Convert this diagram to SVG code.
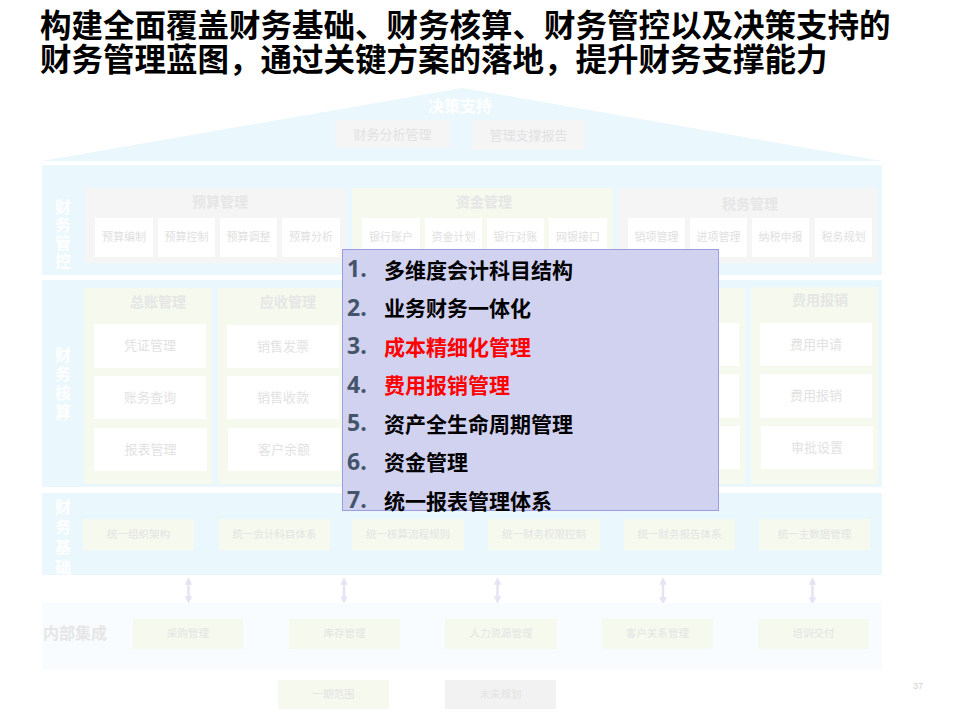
<svg xmlns="http://www.w3.org/2000/svg" width="960" height="720" viewBox="0 0 960 720">
<defs>
<style>
.cjk{font-family:"Noto Sans CJK SC","Noto Sans",sans-serif}
.title{font-size:31.5px;font-weight:700;fill:#000}
.panel{fill:#EAF7FD}
.gg{fill:#F5F5F5}
.gn{fill:#F5F9EE}
.wh{fill:#FFFFFF}
.vl{font-size:16px;font-weight:700;fill:#FFFFFF;text-anchor:middle}
.gt{font-size:14px;font-weight:700;fill:#E6E6E6;text-anchor:middle}
.it{font-size:11px;fill:#E0E0E0;text-anchor:middle}
.it2{font-size:13px;fill:#E2E2E2;text-anchor:middle}
.it3{font-size:10.5px;fill:#E4E4E4;text-anchor:middle}
.num{font-family:"Open Sans","Noto Sans",sans-serif;font-size:23px;font-weight:700;fill:#44546A}
.ov{font-size:21px;font-weight:700;fill:#000}
.red{fill:#FF0000}
.arr{stroke:#E4E4F4;stroke-width:2.5;fill:none;marker-start:url(#ah);marker-end:url(#ah)}
</style>
<marker id="ah" viewBox="0 0 10 10" refX="5" refY="5" markerWidth="3" markerHeight="3" orient="auto-start-reverse">
<path d="M0,0 L10,5 L0,10 Z" fill="#E4E4F4"/>
</marker>
</defs>
<rect width="960" height="720" fill="#FFFFFF"/>

<g id="title" class="cjk title">
<text x="40" y="37">构建全面覆盖财务基础、财务核算、财务管控以及决策支持的</text>
<text x="40" y="71">财务管理蓝图，通过关键方案的落地，提升财务支撑能力</text>
</g>

<g id="decision" class="cjk">
<polygon class="panel" points="42,161 462,88 882,161"/>
<text x="460" y="112" style="font-size:16px;font-weight:700;fill:#fff;text-anchor:middle">决策支持</text>
<rect class="gg" x="335" y="120" width="115" height="28"/>
<text class="it2" x="392.5" y="139">财务分析管理</text>
<rect class="gg" x="472" y="120" width="113" height="30"/>
<text class="it2" x="528.5" y="140">管理支撑报告</text>
</g>

<g id="control" class="cjk">
<rect class="panel" x="42" y="165" width="840" height="110"/>
<text class="vl" x="63" y="213">财</text>
<text class="vl" x="63" y="231">务</text>
<text class="vl" x="63" y="249">管</text>
<text class="vl" x="63" y="267">控</text>
<rect class="gg" x="85" y="188" width="261" height="75"/>
<text class="gt" x="220" y="207">预算管理</text>
<rect class="wh" x="95" y="218" width="58" height="39"/><text class="it" x="124" y="241">预算编制</text>
<rect class="wh" x="158" y="218" width="57" height="39"/><text class="it" x="186.5" y="241">预算控制</text>
<rect class="wh" x="220" y="218" width="57" height="39"/><text class="it" x="248.5" y="241">预算调整</text>
<rect class="wh" x="282" y="218" width="58" height="39"/><text class="it" x="311" y="241">预算分析</text>
<rect class="gn" x="352" y="188" width="261" height="75"/>
<text class="gt" x="484" y="207">资金管理</text>
<rect class="wh" x="362" y="218" width="58" height="39"/><text class="it" x="391" y="241">银行账户</text>
<rect class="wh" x="425" y="218" width="57" height="39"/><text class="it" x="453.5" y="241">资金计划</text>
<rect class="wh" x="487" y="218" width="57" height="39"/><text class="it" x="515.5" y="241">银行对账</text>
<rect class="wh" x="549" y="218" width="58" height="39"/><text class="it" x="578" y="241">网银接口</text>
<rect class="gg" x="618" y="188" width="259" height="75"/>
<text class="gt" x="750" y="209">税务管理</text>
<rect class="wh" x="628" y="218" width="57" height="39"/><text class="it" x="656.5" y="241">销项管理</text>
<rect class="wh" x="690" y="218" width="57" height="39"/><text class="it" x="718.5" y="241">进项管理</text>
<rect class="wh" x="752" y="218" width="57" height="39"/><text class="it" x="780.5" y="241">纳税申报</text>
<rect class="wh" x="815" y="218" width="57" height="39"/><text class="it" x="843.5" y="241">税务规划</text>
</g>

<g id="accounting" class="cjk">
<rect class="panel" x="42" y="280" width="840" height="207"/>
<text class="vl" x="63" y="361">财</text>
<text class="vl" x="63" y="380">务</text>
<text class="vl" x="63" y="399">核</text>
<text class="vl" x="63" y="418">算</text>
<rect class="gn" x="84" y="288" width="128" height="196"/>
<text class="gt" x="158" y="307">总账管理</text>
<rect class="wh" x="94" y="324" width="112" height="44"/><text class="it2" x="150" y="350">凭证管理</text>
<rect class="wh" x="94" y="376" width="112" height="43"/><text class="it2" x="150" y="402">账务查询</text>
<rect class="wh" x="94" y="428" width="113" height="43"/><text class="it2" x="150.5" y="454">报表管理</text>
<rect class="gn" x="218" y="288" width="128" height="196"/>
<text class="gt" x="288" y="307">应收管理</text>
<rect class="wh" x="227" y="325" width="112" height="43"/><text class="it2" x="283" y="351">销售发票</text>
<rect class="wh" x="227" y="376" width="112" height="43"/><text class="it2" x="283" y="402">销售收款</text>
<rect class="wh" x="228" y="428" width="112" height="43"/><text class="it2" x="284" y="454">客户余额</text>
<rect class="gn" x="351" y="288" width="128" height="196"/>
<rect class="wh" x="361" y="324" width="112" height="44"/>
<rect class="wh" x="361" y="376" width="112" height="43"/>
<rect class="wh" x="361" y="428" width="112" height="43"/>
<rect class="gn" x="485" y="288" width="128" height="196"/>
<rect class="wh" x="494" y="324" width="112" height="44"/>
<rect class="wh" x="494" y="376" width="112" height="43"/>
<rect class="wh" x="494" y="428" width="112" height="43"/>
<rect class="gn" x="618" y="288" width="127" height="196"/>
<rect class="wh" x="627" y="323" width="112" height="43"/>
<rect class="wh" x="627" y="374" width="112" height="44"/>
<rect class="wh" x="628" y="426" width="112" height="43"/>
<rect class="gn" x="751" y="287" width="127" height="197"/>
<text class="gt" x="820" y="305">费用报销</text>
<rect class="wh" x="760" y="323" width="112" height="43"/><text class="it2" x="816" y="349">费用申请</text>
<rect class="wh" x="760" y="374" width="112" height="44"/><text class="it2" x="816" y="400">费用报销</text>
<rect class="wh" x="761" y="426" width="112" height="43"/><text class="it2" x="817" y="452">审批设置</text>
</g>

<g id="foundation" class="cjk">
<rect class="panel" x="42" y="493" width="840" height="82"/>
<text class="vl" x="63" y="513">财</text>
<text class="vl" x="63" y="533">务</text>
<text class="vl" x="63" y="553">基</text>
<text class="vl" x="63" y="573">础</text>
<rect class="gn" x="83" y="519" width="111" height="31"/><text class="it3" x="138.5" y="538">统一组织架构</text>
<rect class="gn" x="219" y="519" width="111" height="31"/><text class="it3" x="274.5" y="538">统一会计科目体系</text>
<rect class="gn" x="352" y="519" width="112" height="31"/><text class="it3" x="408" y="538">统一核算流程规则</text>
<rect class="gn" x="488" y="519" width="112" height="31"/><text class="it3" x="544" y="538">统一财务权限控制</text>
<rect class="gn" x="624" y="519" width="111" height="31"/><text class="it3" x="679.5" y="538">统一财务报告体系</text>
<rect class="gn" x="759" y="519" width="111" height="31"/><text class="it3" x="814.5" y="538">统一主数据管理</text>
</g>

<g id="connectors">
<line class="arr" x1="188.5" y1="581" x2="188.5" y2="600"/>
<line class="arr" x1="344" y1="581" x2="344" y2="600"/>
<line class="arr" x1="497.5" y1="581" x2="497.5" y2="600"/>
<line class="arr" x1="663" y1="581" x2="663" y2="601"/>
<line class="arr" x1="812.5" y1="581" x2="812.5" y2="601"/>
</g>

<g id="integration" class="cjk">
<rect x="42" y="603" width="840" height="67" fill="#F8FCFE"/>
<text x="43" y="639" style="font-size:16px;font-weight:700;fill:#E6E6E6">内部集成</text>
<rect class="gn" x="133" y="619" width="110" height="30"/><text class="it3" x="188" y="637">采购管理</text>
<rect class="gn" x="289" y="619" width="111" height="30"/><text class="it3" x="344.5" y="637">库存管理</text>
<rect class="gn" x="445" y="619" width="112" height="30"/><text class="it3" x="501" y="637">人力资源管理</text>
<rect class="gn" x="602" y="619" width="111" height="30"/><text class="it3" x="657.5" y="637">客户关系管理</text>
<rect class="gn" x="758" y="619" width="111" height="30"/><text class="it3" x="813.5" y="637">培训交付</text>
</g>

<g id="legend" class="cjk">
<rect class="gn" x="278" y="680" width="111" height="29"/><text class="it3" x="333.5" y="698">一期范围</text>
<rect x="445" y="680" width="111" height="29" fill="#F2F2F2"/><text class="it3" x="500.5" y="698">未来规划</text>
</g>

<text id="page" x="913" y="689" style="font-family:'Liberation Sans',sans-serif;font-size:9px;fill:#D0D0D0">37</text>

<g id="overlay" class="cjk">
<rect x="342.5" y="249.5" width="376" height="261" fill="#D1D1F0" stroke="#9C9CE0" stroke-width="1"/>
<text class="num" x="347" y="277">1.</text><text class="ov" x="384" y="277.5">多维度会计科目结构</text>
<text class="num" x="347" y="315.5">2.</text><text class="ov" x="384" y="316">业务财务一体化</text>
<text class="num" x="347" y="354">3.</text><text class="ov red" x="384" y="354.5">成本精细化管理</text>
<text class="num" x="347" y="392.5">4.</text><text class="ov red" x="384" y="393">费用报销管理</text>
<text class="num" x="347" y="431">5.</text><text class="ov" x="384" y="431.5">资产全生命周期管理</text>
<text class="num" x="347" y="469.5">6.</text><text class="ov" x="384" y="470">资金管理</text>
<text class="num" x="347" y="508">7.</text><text class="ov" x="384" y="508.5">统一报表管理体系</text>
</g>
</svg>
